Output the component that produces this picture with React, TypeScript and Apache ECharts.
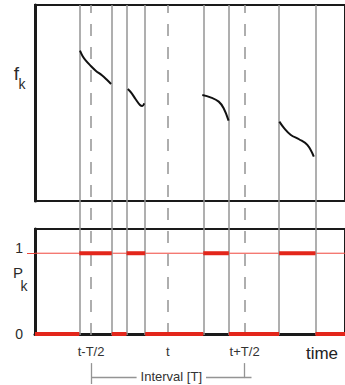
import React, { useEffect, useRef } from "react";
import * as echarts from "echarts";

// time axis runs 0 .. 31.5 (arbitrary units)
const X_MIN = 0;
const X_MAX = 31.5;

// intervals where P_k = 1 (f_k defined) and where P_k = 0
const HIGH_SEGMENTS: number[][] = [
  [4.5, 7.8],
  [9.3, 11.2],
  [17.1, 19.7],
  [24.8, 28.5],
];
const LOW_SEGMENTS: number[][] = [
  [0, 4.5],
  [7.8, 9.3],
  [11.2, 17.1],
  [19.7, 24.8],
  [28.5, 31.5],
];
const SWITCH_TIMES = [4.5, 7.8, 9.3, 11.2, 17.1, 19.7, 24.8, 28.5];
const P_REFERENCE_LEVEL = 1;

const T_CENTER = 13.5;
const HALF_T = 7.8;
const TICK_LABELS = ["t-T/2", "t", "t+T/2"];

// f_k curve pieces
const F_SEG1 = [
  [4.57, 7.67], [4.83, 7.4], [5.17, 7.16], [5.67, 6.89], [6.17, 6.65],
  [6.83, 6.4], [7.33, 6.17], [7.73, 5.97],
];
const F_SEG2 = [
  [9.43, 5.71], [9.83, 5.49], [10.23, 5.19], [10.67, 4.9], [10.9, 4.85], [11.1, 4.98],
];
const F_SEG3 = [
  [17.0, 5.41], [17.83, 5.29], [18.67, 5.07], [19.17, 4.73], [19.67, 4.1],
];
const F_SEG4 = [
  [24.83, 4.05], [25.33, 3.71], [26.0, 3.37], [26.83, 3.15], [27.67, 2.86], [28.33, 2.26],
];
const F_SEGMENTS = [F_SEG1, F_SEG2, F_SEG3, F_SEG4];

const FONT = "'Liberation Sans', Arial, Helvetica, sans-serif";
const BLACK = "#1a1a1a";
const GRAY = "#949494";
const RED = "#e3261b";
const LIGHT_RED = "#f0463c";

export default function App() {
  const ref = useRef<HTMLDivElement>(null);

  useEffect(() => {
    if (!ref.current) return;
    const chart = echarts.init(ref.current, undefined, { renderer: "svg" });

    const tMinus = T_CENTER - HALF_T;
    const tPlus = T_CENTER + HALF_T;
    const labelValues = [tMinus, T_CENTER, tPlus];

    const fSeries = F_SEGMENTS.map((seg) => ({
      type: "line",
      xAxisIndex: 0,
      yAxisIndex: 0,
      data: seg,
      smooth: 0.4,
      symbol: "none",
      lineStyle: { color: "#111", width: 2 },
      z: 5,
    }));

    const referenceLine = {
      type: "line",
      xAxisIndex: 1,
      yAxisIndex: 1,
      data: [
        [X_MIN, P_REFERENCE_LEVEL],
        [X_MAX, P_REFERENCE_LEVEL],
      ],
      symbol: "none",
      color: LIGHT_RED,
      lineStyle: { color: LIGHT_RED, width: 1 },
      z: 3,
    };

    const stepSeries = (segs: number[][], level: number) =>
      segs.map((s) => ({
        type: "line",
        xAxisIndex: 1,
        yAxisIndex: 1,
        data: [
          [s[0], level],
          [s[1], level],
        ],
        symbol: "none",
        color: RED,
        lineStyle: { color: RED, width: 4 },
        z: 5,
      }));

    const verticalSeries = {
      type: "line",
      xAxisIndex: 2,
      yAxisIndex: 2,
      data: [],
      z: 1,
      markLine: {
        silent: true,
        symbol: ["none", "none"],
        label: { show: false },
        data: [
          ...SWITCH_TIMES.map((x) => ({
            xAxis: x,
            lineStyle: { color: GRAY, width: 1.5, type: "solid" },
          })),
          ...labelValues.map((x) => ({
            xAxis: x,
            lineStyle: { color: GRAY, width: 1.5, type: [12, 11] },
          })),
        ],
      },
    };

    const intervalSeries = {
      type: "line",
      xAxisIndex: 3,
      yAxisIndex: 3,
      data: [],
      markLine: {
        silent: true,
        symbol: ["none", "none"],
        lineStyle: { color: GRAY, width: 1.3, type: "solid" },
        data: [
          [
            {
              coord: [tMinus, 0.32],
              label: {
                show: true,
                position: "middle",
                distance: 0,
                verticalAlign: "middle",
                formatter: "Interval [T]",
                color: "#333",
                fontSize: 13,
                fontFamily: FONT,
                backgroundColor: "#fff",
                padding: [1, 4],
              },
            },
            { coord: [tPlus + 0.7, 0.32] },
          ],
          [
            { coord: [tMinus, 0], label: { show: false } },
            { coord: [tMinus, 0.95] },
          ],
          [
            { coord: [tPlus, 0.27], label: { show: false } },
            { coord: [tPlus, 0.95] },
          ],
        ],
      },
    };

    const hiddenX = (gridIndex: number) => ({
      gridIndex,
      type: "value",
      min: X_MIN,
      max: X_MAX,
      show: false,
    });
    const hiddenY = (gridIndex: number) => ({
      gridIndex,
      type: "value",
      min: 0,
      max: 1,
      show: false,
    });

    const txt = (text: string, x: number, y: number, size: number, fill = "#2a2a2a") => ({
      type: "text",
      x,
      y,
      style: {
        text,
        font: `${size}px ${FONT}`,
        fill,
        textAlign: "center",
        textVerticalAlign: "middle",
        align: "center",
        verticalAlign: "middle",
      },
    });

    chart.setOption({
      animation: false,
      textStyle: { fontFamily: FONT },
      grid: [
        {
          left: 35,
          right: -5,
          top: 5,
          bottom: 184,
          show: true,
          borderColor: BLACK,
          borderWidth: 2,
        },
        {
          left: 35,
          right: -5,
          top: 229,
          bottom: 51,
          show: true,
          borderColor: BLACK,
          borderWidth: 2,
        },
        { left: 35, right: -5, top: 5, bottom: 50 },
        { left: 35, right: -5, top: 362, bottom: 1 },
      ],
      xAxis: [
        hiddenX(0),
        {
          gridIndex: 1,
          type: "value",
          min: X_MIN,
          max: X_MAX,
          axisLine: { show: true, lineStyle: { color: BLACK, width: 3 } },
          axisTick: { show: false },
          splitLine: { show: false },
          axisLabel: {
            customValues: labelValues,
            formatter: (v: number) => {
              const idx = labelValues.findIndex((lv) => Math.abs(lv - v) < 1e-6);
              return idx >= 0 ? TICK_LABELS[idx] : "";
            },
            color: "#333",
            fontSize: 13,
            fontFamily: FONT,
            margin: 11,
          },
        },
        hiddenX(2),
        hiddenX(3),
      ],
      yAxis: [
        {
          gridIndex: 0,
          type: "value",
          min: 0,
          max: 10,
          axisLine: { show: true, lineStyle: { color: BLACK, width: 3 } },
          axisTick: { show: false },
          axisLabel: { show: false },
          splitLine: { show: false },
        },
        {
          gridIndex: 1,
          type: "value",
          min: 0,
          max: 1.3,
          interval: 1,
          axisLine: { show: true, lineStyle: { color: BLACK, width: 3 } },
          axisTick: {
            show: true,
            customValues: [1],
            length: 8,
            lineStyle: { color: LIGHT_RED, width: 1 },
          },
          splitLine: { show: false },
          axisLabel: {
            customValues: [0, 1],
            formatter: (v: number) => (v === 1 ? "{up|1}" : v === 0 ? "0" : ""),
            rich: { up: { padding: [0, 0, 10, 0], fontSize: 14, color: "#2a2a2a" } },
            color: "#2a2a2a",
            fontSize: 14,
            fontFamily: FONT,
            margin: 12,
          },
        },
        hiddenY(2),
        hiddenY(3),
      ],
      graphic: [
        txt("f", 16.5, 73, 19),
        txt("k", 22, 84, 14),
        txt("P", 18, 272, 15),
        txt("k", 24, 286, 14),
        txt("time", 322, 353, 17, "#222"),
      ],
      series: [
        ...fSeries,
        referenceLine,
        ...stepSeries(LOW_SEGMENTS, 0),
        ...stepSeries(HIGH_SEGMENTS, 1),
        verticalSeries,
        intervalSeries,
      ],
    });

    return () => chart.dispose();
  }, []);

  return <div ref={ref} style={{ width: 345, height: 385, position: "absolute", left: 0, top: 0 }} />;
}
